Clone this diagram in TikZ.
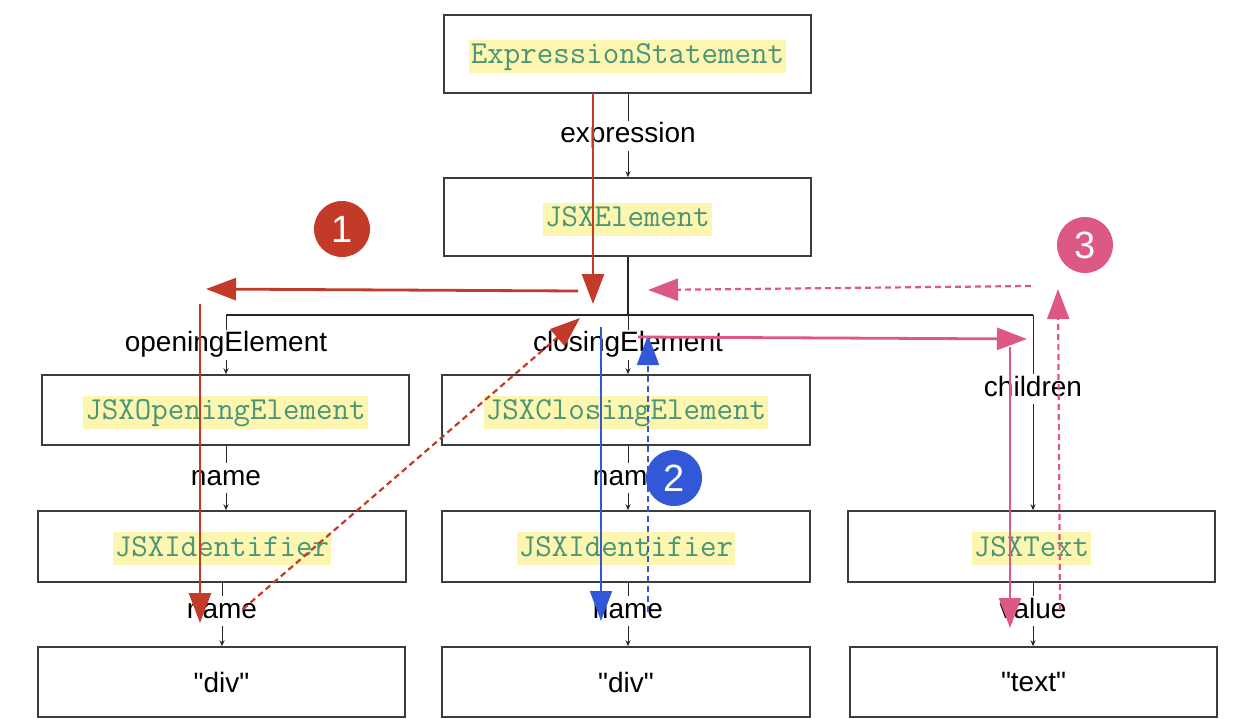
\documentclass[tikz,border=0pt]{standalone}
\usepackage{fontspec}
\setmainfont{Liberation Sans}
\usetikzlibrary{arrows.meta}
\definecolor{codegreen}{RGB}{74,148,120}
\definecolor{hlyellow}{RGB}{252,246,176}
\definecolor{boxline}{RGB}{60,60,60}
\definecolor{redA}{RGB}{195,58,40}
\definecolor{blueA}{RGB}{50,88,215}
\definecolor{pinkA}{RGB}{222,88,132}
\newcommand{\qq}{\XeTeXglyph\XeTeXcharglyph"22\relax}
\tikzset{
  treebox/.style={draw=boxline, line width=0.75pt, fill=white, inner sep=0pt},
  codetxt/.style={fill=hlyellow, text=codegreen, font=\ttfamily\fontsize{16}{18}\selectfont, inner xsep=1pt, inner ysep=1.5pt, text height=10.5pt, text depth=3pt, yshift=-1pt},
  plaintxt/.style={font=\fontsize{14}{16}\selectfont},
  edgelbl/.style={fill=white, inner sep=1pt, font=\fontsize{14}{16}\selectfont, text height=10pt, text depth=3pt},
  treeedge/.style={draw=black!85, line width=0.5pt, -{Stealth[length=3pt,width=2.5pt]}},
  treeline/.style={draw=black!85, line width=0.6pt},
  bigtip/.style={-{Triangle[length=15pt,width=11pt]}},
  solidred/.style={draw=redA, line width=1.4pt, bigtip, color=redA},
  dashred/.style={draw=redA, line width=1.1pt, dash pattern=on 3pt off 2pt, bigtip, color=redA},
  solidblue/.style={draw=blueA, line width=1pt, bigtip, color=blueA},
  dashblue/.style={draw=blueA, line width=1pt, dash pattern=on 3pt off 2pt, bigtip, color=blueA},
  solidpink/.style={draw=pinkA, line width=1.4pt, bigtip, color=pinkA},
  dashpink/.style={draw=pinkA, line width=1.1pt, dash pattern=on 3pt off 2pt, bigtip, color=pinkA},
  badge/.style={circle, minimum size=28pt, inner sep=0pt, text=white, font=\fontsize{19}{21}\selectfont},
}
\begin{document}
\begin{tikzpicture}[x=0.5pt,y=-0.5pt]
\useasboundingbox (0,0) rectangle (1240,718);
% boxes
\node[treebox, minimum width=183.5pt, minimum height=39pt] (es) at (627.5,54) {};
\node[codetxt] (esT) at (es) {ExpressionStatement};
\node[treebox, minimum width=183.5pt, minimum height=39pt] (jel) at (627.5,217) {};
\node[codetxt] (jelT) at (jel) {JSXElement};
\node[treebox, minimum width=183.5pt, minimum height=35pt] (jop) at (225.5,410) {};
\node[codetxt] (jopT) at (jop) {JSXOpeningElement};
\node[treebox, minimum width=184pt, minimum height=35pt] (jcl) at (626,410) {};
\node[codetxt] (jclT) at (jcl) {JSXClosingElement};
\node[treebox, minimum width=184pt, minimum height=35.5pt] (jid1) at (222,546.5) {};
\node[codetxt] (jid1T) at (jid1) {JSXIdentifier};
\node[treebox, minimum width=184pt, minimum height=35.5pt] (jid2) at (626,546.5) {};
\node[codetxt] (jid2T) at (jid2) {JSXIdentifier};
\node[treebox, minimum width=183.5pt, minimum height=35.5pt] (jtx) at (1031.5,546.5) {};
\node[codetxt] (jtxT) at (jtx) {JSXText};
\node[treebox, minimum width=183.5pt, minimum height=35pt, plaintxt] (s1) at (221.5,682) {\qq div\qq};
\node[treebox, minimum width=184pt, minimum height=35pt, plaintxt] (s2) at (626,682) {\qq div\qq};
\node[treebox, minimum width=183.5pt, minimum height=35pt, plaintxt] (s3) at (1033.5,682) {\qq text\qq};
% tree connectors
\coordinate (busL) at (226,315);
\coordinate (busM) at (628,315);
\coordinate (busR) at (1033,315);
\draw[treeedge] (es.south -| busM) -- node[edgelbl]{expression} (jel.north -| busM);
\draw[treeline] (jel.south -| busM) -- (busM);
\draw[treeline] (busL) -- (busR);
\draw[treeedge] (busL) -- node[edgelbl]{openingElement} (jop.north -| busL);
\draw[treeedge] (busM) -- node[edgelbl]{closingElement} (jcl.north -| busM);
\draw[treeedge] (busR) -- node[edgelbl, pos=0.38]{children} (jtx.north -| busR);
\draw[treeedge] (jop.south -| busL) -- node[edgelbl]{name} (jid1.north -| busL);
\draw[treeedge] (jid1.south -| 222,0) -- node[edgelbl, pos=0.45]{name} (s1.north -| 222,0);
\draw[treeedge] (jcl.south -| busM) -- node[edgelbl]{name} (jid2.north -| busM);
\draw[treeedge] (jid2.south -| busM) -- node[edgelbl, pos=0.45]{name} (s2.north -| busM);
\draw[treeedge] (jtx.south -| busR) -- node[edgelbl, pos=0.45]{value} (s3.north -| busR);
% red path (1)
\coordinate (r1s) at (593,93);
\coordinate (r1e) at (593,304);
\coordinate (r2s) at (578,291);
\coordinate (r2e) at (206,289);
\coordinate (r3s) at (200,304);
\coordinate (r3e) at (200,623);
\coordinate (r4s) at (243,609);
\coordinate (r4e) at (580,318);
\draw[solidred] (r1s) -- (r1e);
\draw[solidred] (r2s) -- (r2e);
\draw[solidred] (r3s) -- (r3e);
\draw[dashred] (r4s) -- (r4e);
% blue path (2)
\coordinate (b1s) at (601,327);
\coordinate (b1e) at (601,621);
\coordinate (b2s) at (648,612);
\coordinate (b2e) at (648,335);
\draw[solidblue] (b1s) -- (b1e);
\draw[dashblue] (b2s) -- (b2e);
% pink path (3)
\coordinate (p1s) at (638,337);
\coordinate (p1e) at (1027,339);
\coordinate (p2s) at (1010,347);
\coordinate (p2e) at (1010,628);
\coordinate (p3s) at (1060,610);
\coordinate (p3e) at (1058,289);
\coordinate (p4s) at (1031,286);
\coordinate (p4e) at (648,290);
\draw[solidpink] (p1s) -- (p1e);
\draw[solidpink] (p2s) -- (p2e);
\draw[dashpink] (p3s) -- (p3e);
\draw[dashpink] (p4s) -- (p4e);
% badges
\node[badge, fill=redA] (c1) at (342,229) {1};
\node[badge, fill=blueA] (c2) at (674,478) {2};
\node[badge, fill=pinkA] (c3) at (1085,245) {3};
\end{tikzpicture}
\end{document}
